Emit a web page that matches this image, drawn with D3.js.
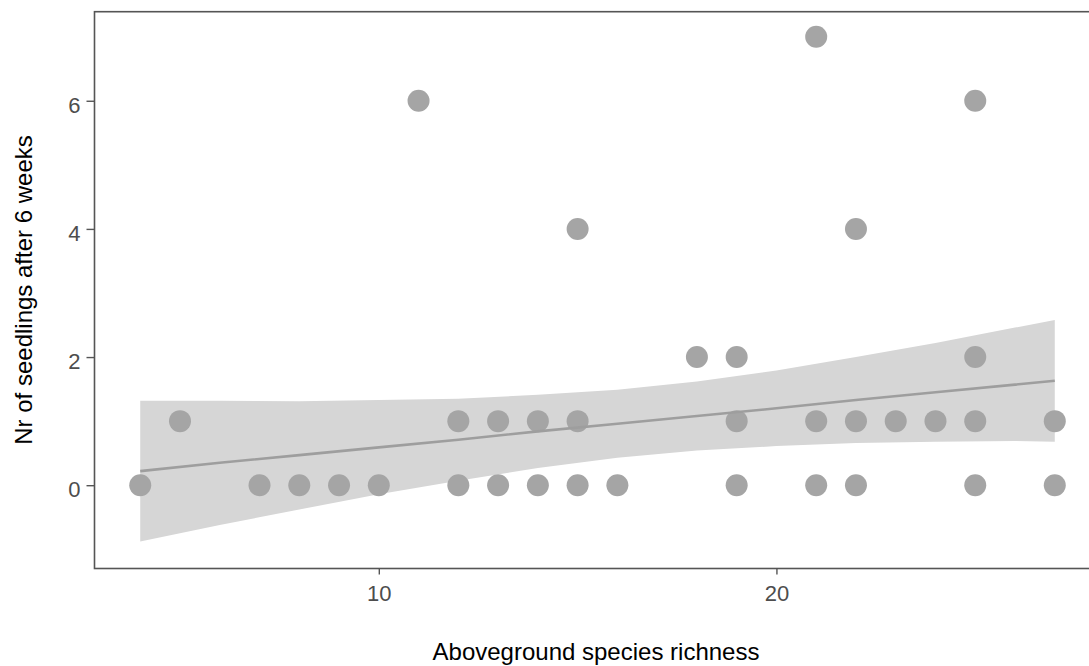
<!DOCTYPE html>
<html>
<head>
<meta charset="utf-8">
<script src="https://cdn.jsdelivr.net/npm/d3@7"></script>
<style>
    body { margin: 0; background: #fff; }
    text { font-family: "Liberation Sans", Arial, sans-serif; }
</style>
</head>
<body>
<div id="chart"></div>
<script>
// observed points (richness, seedlings)
const richness = [4, 7, 8, 9, 10, 12, 13, 14, 15, 16, 19, 21, 22, 25, 27,
    5, 12, 13, 14, 15, 19, 21, 22, 23, 24, 25, 27,
    18, 19, 25,
    15, 22,
    11, 25,
    21]
const seedlings = [0, 0, 0, 0, 0, 0, 0, 0, 0, 0, 0, 0, 0, 0, 0,
    1, 1, 1, 1, 1, 1, 1, 1, 1, 1, 1, 1,
    2, 2, 2,
    4, 4,
    6, 6,
    7]

// smoother
const fitX = [4, 6, 8, 10, 12, 14, 16, 18, 20, 22, 24, 26, 27]
const fitY = [0.22, 0.35, 0.47, 0.59, 0.71, 0.84, 0.96, 1.08, 1.20, 1.33, 1.45, 1.57, 1.63]
const fitLower = [-0.88, -0.62, -0.38, -0.14, 0.07, 0.27, 0.43, 0.54, 0.61, 0.66, 0.68, 0.69, 0.68]
const fitUpper = [1.32, 1.32, 1.31, 1.33, 1.35, 1.41, 1.49, 1.62, 1.79, 2.00, 2.22, 2.46, 2.58]

const xTicks = [10, 20]
const yTicks = [0, 2, 4, 6]

const width = 1089
const height = 666

const svg = d3.select("#chart")
    .append("svg")
    .attr("width", width)
    .attr("height", height)

const x = d3.scaleLinear().domain([2.85, 28.15]).range([94.5, 1100.5])
const y = d3.scaleLinear().domain([-1.3, 7.39]).range([568.5, 11.7])

const band = fitX.map(function(d, i) { return {x: d, lo: fitLower[i], hi: fitUpper[i], fit: fitY[i]} })

svg.append("path")
    .datum(band)
    .attr("fill", "#d6d6d6")
    .attr("d", d3.area()
        .x(function(d) { return x(d.x) })
        .y0(function(d) { return y(d.lo) })
        .y1(function(d) { return y(d.hi) }))

svg.selectAll("circle")
    .data(richness.map(function(d, i) { return [d, seedlings[i]] }))
    .enter()
    .append("circle")
    .attr("cx", function(d) { return x(d[0]) })
    .attr("cy", function(d) { return y(d[1]) })
    .attr("r", 11)
    .attr("fill", "#a5a5a5")

svg.append("path")
    .datum(band)
    .attr("fill", "none")
    .attr("stroke", "#9e9e9e")
    .attr("stroke-width", 2.6)
    .attr("d", d3.line()
        .x(function(d) { return x(d.x) })
        .y(function(d) { return y(d.fit) }))

// panel border (right side runs off the image)
svg.append("rect")
    .attr("x", 94.5)
    .attr("y", 11.7)
    .attr("width", 1100.5 - 94.5)
    .attr("height", 568.5 - 11.7)
    .attr("fill", "none")
    .attr("stroke", "#555")
    .attr("stroke-width", 1.6)

const xAxis = svg.append("g")
    .attr("transform", "translate(0,568.5)")
    .call(d3.axisBottom(x).tickValues(xTicks).tickSize(6).tickPadding(10.4).tickFormat(d3.format("d")))
const yAxis = svg.append("g")
    .attr("transform", "translate(94.5,0)")
    .call(d3.axisLeft(y).tickValues(yTicks).tickSize(8).tickPadding(6).tickFormat(d3.format("d")))

;[xAxis, yAxis].forEach(function(g) {
    g.select(".domain").remove()
    g.selectAll(".tick line").attr("stroke", "#555").attr("stroke-width", 1.4)
    g.selectAll(".tick text")
        .attr("fill", "#4d4d4d")
        .style("font-size", "22px")
})
yAxis.selectAll(".tick text").attr("dy", "0.53em")

svg.append("text")
    .attr("x", 596)
    .attr("y", 660)
    .attr("text-anchor", "middle")
    .style("font-size", "24px")
    .attr("fill", "#000")
    .text("Aboveground species richness")

svg.append("text")
    .attr("transform", "translate(32,290) rotate(-90)")
    .attr("text-anchor", "middle")
    .style("font-size", "24px")
    .attr("fill", "#000")
    .text("Nr of seedlings after 6 weeks")
</script>
</body>
</html>
